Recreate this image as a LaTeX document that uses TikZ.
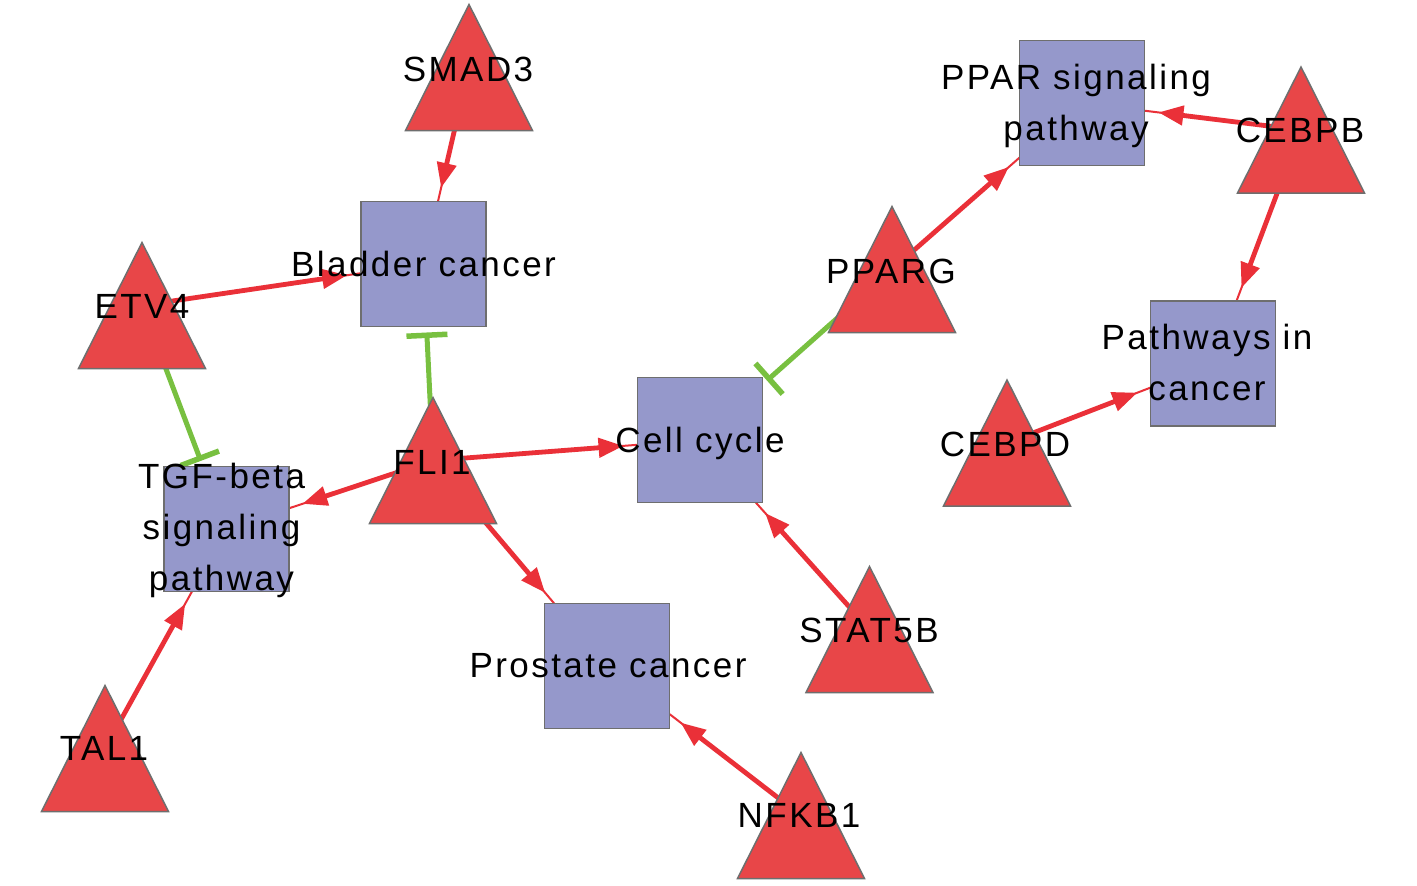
\documentclass[tikz,border=0pt]{standalone}
\usepackage{fontspec}
\newfontfamily\labfont[LetterSpace=7]{Liberation Sans}
\usetikzlibrary{arrows.meta}
\pgfdeclarelayer{edges}
\pgfsetlayers{edges,main}
\definecolor{trired}{RGB}{232,70,72}
\definecolor{boxblue}{RGB}{149,152,203}
\definecolor{edgered}{RGB}{234,48,56}
\definecolor{inhgreen}{RGB}{120,192,64}
\definecolor{outl}{RGB}{110,110,110}
\tikzset{
  tri/.style={fill=trired, draw=outl, line width=1.5pt, line join=miter},
  pbox/.style={rectangle, fill=boxblue, draw=outl, line width=1.5pt, minimum size=125pt, inner sep=0pt, outer sep=0pt},
  lab/.style={font=\labfont\fontsize{35}{51}\selectfont, inner sep=0pt, align=center, text=black},
  actthin/.style={draw=edgered, line width=2pt},
  acthead/.style={draw=edgered, line width=4.8pt, shorten >=14pt, -{Triangle[length=25pt,width=19pt]}},
  inh/.style={draw=inhgreen, line width=5pt, shorten >=6pt, -{Bar[width=41pt,line width=5.5pt]}}
}
\newcommand\genetri[3]{%
  \coordinate (#1) at (#2,#3);
  \filldraw[tri] (#2,#3) ++(0,-63) -- ++(63.5,126) -- ++(-127,0) -- cycle;}
\newcommand\actedge[2]{%
  \draw[actthin] (#1) -- (#2);
  \draw[acthead] (#1) -- (#2);}
\begin{document}
\begin{tikzpicture}[x=1pt,y=-1pt]
\useasboundingbox (0,0) rectangle (1417,886);
\begin{pgfonlayer}{edges}
\fill[white] (0,0) rectangle (1417,886);
\end{pgfonlayer}
% pathway boxes
\node[pbox] (bladder) at (423.5,264) {};
\node[pbox] (cell) at (700,440) {};
\node[pbox] (ppar) at (1082,103) {};
\node[pbox] (pathc) at (1213,363.5) {};
\node[pbox] (tgf) at (226.5,529) {};
\node[pbox] (prost) at (607,666) {};
% genes
\genetri{smad3}{469}{67.5}
\genetri{etv4}{142}{305.5}
\genetri{fli1}{433}{460.5}
\genetri{pparg}{892}{269.5}
\genetri{cebpb}{1301}{130}
\genetri{cebpd}{1007}{443}
\genetri{stat5b}{869.5}{629.5}
\genetri{tal1}{105}{748.5}
\genetri{nfkb1}{801}{815.5}
% connectors
\begin{pgfonlayer}{edges}
\actedge{smad3}{bladder}
\actedge{etv4}{bladder}
\draw[inh] (fli1) -- (bladder);
\draw[inh] (etv4) -- (tgf);
\actedge{fli1}{tgf}
\actedge{fli1}{cell}
\actedge{fli1}{prost}
\draw[inh] (pparg) -- (cell);
\actedge{pparg}{ppar}
\actedge{cebpb}{ppar}
\actedge{cebpb}{pathc}
\actedge{cebpd}{pathc}
\actedge{stat5b}{cell}
\actedge{tal1}{tgf}
\actedge{nfkb1}{prost}
\end{pgfonlayer}
% labels
\node[lab] (bladder-l) at (423.5,264) {Bladder cancer};
\node[lab] (cell-l) at (700,443) {Cell cycle};
\node[lab] (ppar-l) at (1076,105.5) {PPAR signaling\\pathway};
\node[lab] (pathc-l) at (1207,362.5) {Pathways in\\cancer};
\node[lab] (tgf-l) at (221.5,530) {TGF-beta\\signaling\\pathway};
\node[lab] (prost-l) at (608,666) {Prostate cancer};
\node[lab] (smad3-l) at (468,69) {SMAD3};
\node[lab] (etv4-l) at (142,306) {ETV4};
\node[lab] (fli1-l) at (432,462) {FLI1};
\node[lab] (pparg-l) at (891,271) {PPARG};
\node[lab] (cebpb-l) at (1300,130) {CEBPB};
\node[lab] (cebpd-l) at (1005,444) {CEBPD};
\node[lab] (stat5b-l) at (869,630) {STAT5B};
\node[lab] (tal1-l) at (104,748) {TAL1};
\node[lab] (nfkb1-l) at (799,815.5) {NFKB1};
\end{tikzpicture}
\end{document}
